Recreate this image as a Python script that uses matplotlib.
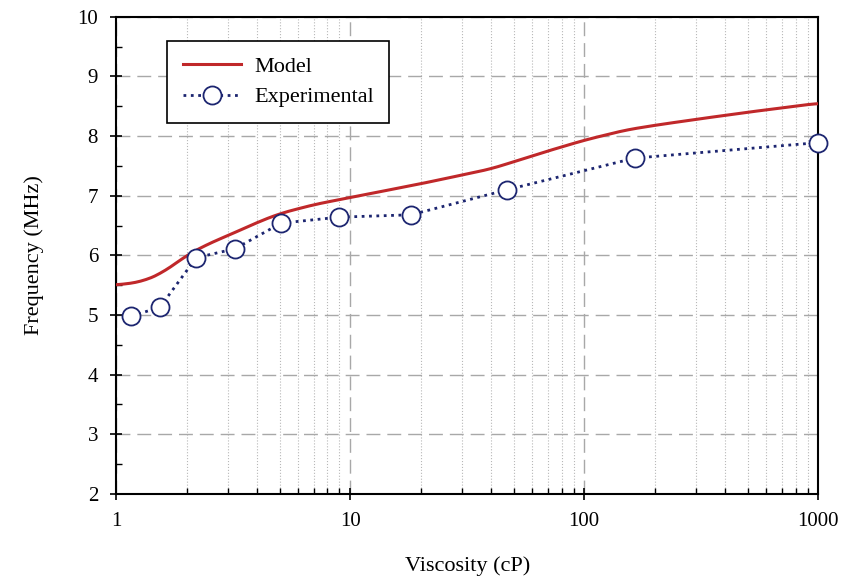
# frequency vs viscosity, model curve and experimental points on a log x axis
import matplotlib.pyplot as plt
import numpy as np
from matplotlib.ticker import MultipleLocator, FixedLocator, NullFormatter

plt.rcParams['font.family'] = ['Liberation Serif', 'DejaVu Serif']

# model curve
model_visc = [1, 1.3, 1.6, 2, 2.5, 3, 4, 5, 7, 10, 20, 40, 70, 100, 150, 200, 300, 500, 1000]
model_freq = [5.5, 5.56, 5.72, 6.0, 6.2, 6.33, 6.55, 6.7, 6.85, 6.97, 7.2, 7.45, 7.75, 7.93, 8.1, 8.18, 8.28, 8.4, 8.55]

# measured points
exp_visc = [1.16, 1.54, 2.2, 3.22, 5.07, 8.97, 18.2, 46.9, 164, 1000]
exp_freq = [4.98, 5.13, 5.96, 6.11, 6.54, 6.64, 6.68, 7.10, 7.63, 7.89]

fig = plt.figure(figsize=(8.41, 5.79), dpi=100)
ax = fig.add_axes([0.138, 0.147, 0.835, 0.824])

# smooth the model line in log space
lx = np.log10(model_visc)
xs = np.linspace(0, 3, 400)
ys = np.interp(xs, lx, model_freq)
k = np.ones(15) / 15
ys_s = np.convolve(np.pad(ys, 7, mode='edge'), k, mode='valid')
ax.plot(10**xs, ys_s, color='#c0282a', lw=2.2, label='Model', zorder=3)

ax.plot(exp_visc, exp_freq, ':', color='#1c2570', lw=2, marker='o', ms=13,
        mfc='white', mec='#1c2570', mew=1.3, label='Experimental', zorder=4,
        clip_on=False)

ax.set_xscale('log')
ax.set_xlim(1, 1000)
ax.set_ylim(2, 10)
ax.set_xticks([1, 10, 100, 1000])
ax.set_xticklabels(['1', '10', '100', '1000'])
ax.xaxis.set_minor_locator(FixedLocator([m * 10**d for d in range(3) for m in range(2, 10)]))
ax.xaxis.set_minor_formatter(NullFormatter())
ax.yaxis.set_major_locator(MultipleLocator(1))
ax.yaxis.set_minor_locator(MultipleLocator(0.5))

ax.grid(which='major', color='#a8a8a8', linestyle=(0, (10, 5)), linewidth=1)
ax.grid(which='minor', axis='x', color='#b8b8b8', linestyle=':', linewidth=0.8)
ax.set_axisbelow(True)

ax.tick_params(which='major', direction='inout', length=8, width=1.2, labelsize=15, pad=9)
ax.tick_params(which='minor', direction='in', length=4, width=1)
for s in ax.spines.values():
    s.set_linewidth(1.5)

ax.set_xlabel('Viscosity (cP)', fontsize=16, labelpad=18)
ax.set_ylabel('Frequency (MHz)', fontsize=16, labelpad=24)

leg = ax.legend(loc='upper left', bbox_to_anchor=(0.073, 0.95), borderaxespad=0,
                fontsize=16, fancybox=False, edgecolor='black', framealpha=1,
                handlelength=2.6, borderpad=0.7, labelspacing=0.45,
                handletextpad=0.6)
leg.get_frame().set_linewidth(1.2)

plt.savefig('out.png', dpi=100)
